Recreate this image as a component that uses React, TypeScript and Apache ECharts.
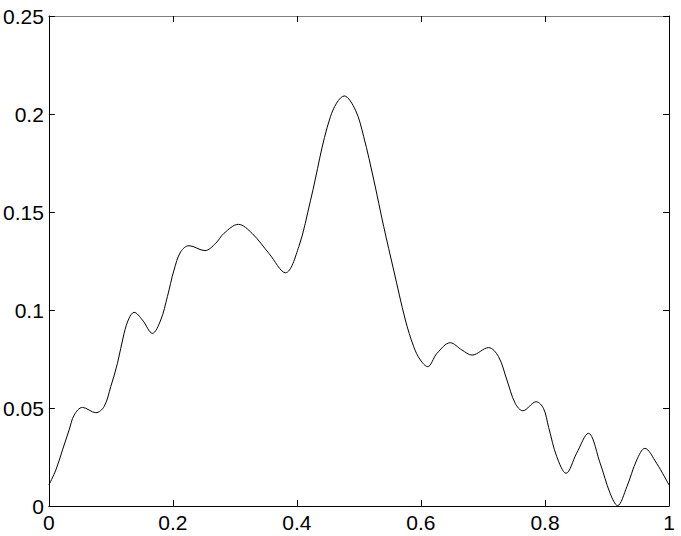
import React, { useEffect, useRef } from "react";
import * as echarts from "echarts";

const xValues: number[] = [
  0, 0.0113, 0.022, 0.0327, 0.0408, 0.0542, 0.0757, 0.089, 0.0998, 0.1106,
  0.1213, 0.1293, 0.1374, 0.1508, 0.167, 0.1804, 0.1911, 0.2018, 0.2126, 0.226,
  0.2517, 0.2689, 0.2823, 0.3055, 0.328, 0.3548, 0.3816, 0.403, 0.422, 0.454,
  0.4766, 0.4944, 0.5077, 0.524, 0.54, 0.556, 0.5749, 0.5883, 0.599, 0.6108,
  0.6259, 0.6473, 0.666, 0.6823, 0.709, 0.7251, 0.7386, 0.752, 0.7644, 0.7858,
  0.7976, 0.806, 0.819, 0.834, 0.851, 0.87, 0.889, 0.905, 0.917, 0.932,
  0.948, 0.961, 0.98, 1.0,
];
const yValues: number[] = [
  0.0107, 0.0184, 0.0286, 0.0388, 0.0464, 0.0503, 0.0476, 0.0507, 0.0609, 0.0728,
  0.0881, 0.0958, 0.0988, 0.0949, 0.0881, 0.0949, 0.1068, 0.1204, 0.1297, 0.1328,
  0.1303, 0.134, 0.1391, 0.1437, 0.139, 0.1289, 0.119, 0.1323, 0.156, 0.1986,
  0.2092, 0.202, 0.1884, 0.1663, 0.1425, 0.1204, 0.0949, 0.0813, 0.0745, 0.0711,
  0.0779, 0.0833, 0.0796, 0.077, 0.0808, 0.0762, 0.0643, 0.0524, 0.0486, 0.0532,
  0.0498, 0.04, 0.0252, 0.0167, 0.0269, 0.0371, 0.0218, 0.0065, 0.0002, 0.0098,
  0.0235, 0.0294, 0.0218, 0.0107,
];
const xTickLabels: string[] = ["0", "0.2", "0.4", "0.6", "0.8", "1"];
const yTickLabels: string[] = ["0", "0.05", "0.1", "0.15", "0.2", "0.25"];

const FONT = "'Liberation Sans', Arial, Helvetica, sans-serif";

export default function App() {
  const ref = useRef<HTMLDivElement>(null);
  useEffect(() => {
    if (!ref.current) return;
    const chart = echarts.init(ref.current, undefined, { renderer: "svg" });
    const xLabelMap = (v: number) => {
      const i = Math.round(v / 0.2);
      return xTickLabels[i] ?? "";
    };
    const yLabelMap = (v: number) => {
      const i = Math.round(v / 0.05);
      return yTickLabels[i] ?? "";
    };
    const tick = { show: true, inside: true, length: 6, lineStyle: { color: "#000", width: 1 } };
    chart.setOption({
      animation: false,
      backgroundColor: "#fff",
      grid: { left: 48, right: 12, top: 16, bottom: 30, containLabel: false },
      xAxis: [
        {
          type: "value",
          position: "bottom",
          min: 0,
          max: 1,
          interval: 0.2,
          axisLine: { show: true, onZero: false, lineStyle: { color: "#000", width: 1 } },
          axisTick: tick,
          splitLine: { show: false },
          axisLabel: {
            show: true,
            margin: 6,
            fontSize: 21,
            fontFamily: FONT,
            color: "#000",
            formatter: xLabelMap,
          },
        },
        {
          type: "value",
          position: "top",
          min: 0,
          max: 1,
          interval: 0.2,
          axisLine: { show: true, onZero: false, lineStyle: { color: "#808080", width: 1 } },
          axisTick: tick,
          splitLine: { show: false },
          axisLabel: { show: false },
        },
      ],
      yAxis: [
        {
          type: "value",
          position: "left",
          min: 0,
          max: 0.25,
          interval: 0.05,
          axisLine: { show: true, onZero: false, lineStyle: { color: "#000", width: 1 } },
          axisTick: tick,
          splitLine: { show: false },
          axisLabel: {
            show: true,
            margin: 5,
            fontSize: 21,
            fontFamily: FONT,
            color: "#000",
            formatter: yLabelMap,
          },
        },
        {
          type: "value",
          position: "right",
          min: 0,
          max: 0.25,
          interval: 0.05,
          axisLine: { show: true, onZero: false, lineStyle: { color: "#000", width: 1 } },
          axisTick: tick,
          splitLine: { show: false },
          axisLabel: { show: false },
        },
      ],
      series: [
        {
          type: "line",
          xAxisIndex: 0,
          yAxisIndex: 0,
          data: xValues.map((x, i) => [x, yValues[i]]),
          smooth: 0.35,
          showSymbol: false,
          symbol: "none",
          lineStyle: { color: "#000", width: 1 },
        },
      ],
    });
    return () => chart.dispose();
  }, []);
  return (
    <div
      ref={ref}
      style={{ position: "fixed", left: 0, top: 0, width: 681, height: 536, background: "#fff" }}
    />
  );
}
